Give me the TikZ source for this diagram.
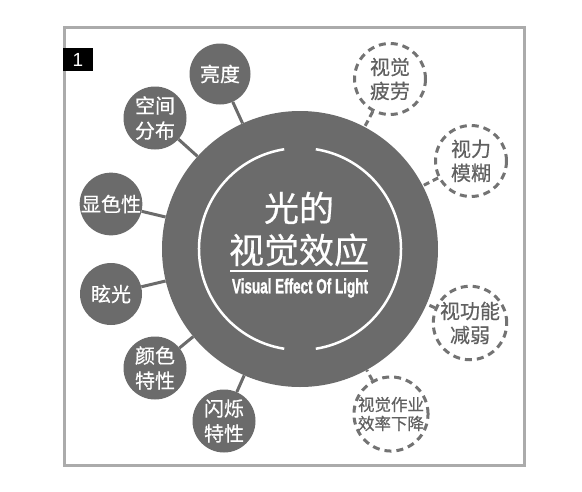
\documentclass[tikz,border=0pt]{standalone}
\usepackage{fontspec}
\usepackage{graphicx}
\newfontfamily\cjk{Noto Sans CJK SC}[FakeBold=0.5]
\newfontfamily\engfont{Liberation Sans}
\newfontfamily\engbold{Liberation Sans Bold}[FakeBold=1.5]
\definecolor{cgray}{HTML}{6B6B6B}
\definecolor{dgray}{HTML}{737373}
\definecolor{tgray}{HTML}{606060}
\definecolor{fgray}{HTML}{ABABAB}
\tikzset{
  solidc/.style={circle, fill=cgray, inner sep=0pt, text=white, align=center,
    font=\cjk\fontsize{20}{25}\selectfont},
  dashc/.style={circle, draw=dgray, line width=3pt, dash pattern=on 7pt off 5pt,
    inner sep=0pt, text=tgray, align=center, font=\cjk\fontsize{20}{24}\selectfont},
  conn/.style={draw=cgray, line width=3pt},
  dconn/.style={draw=dgray, line width=3pt, dash pattern=on 6pt off 4pt},
  ring/.style={draw=white, line width=2.5pt}
}
\begin{document}
\begin{tikzpicture}[x=1pt,y=-1pt]
\fill[white] (0,0) rectangle (582,491);
\useasboundingbox (0,0) rectangle (582,491);
\draw[fgray, line width=3pt] (64,27) rectangle (524.5,465);
\node[fill=black, text=white, minimum width=30pt, minimum height=23pt, inner sep=0pt,
  font=\engfont\fontsize{19}{19}\selectfont] (num) at (78,59.5) {1};

\node[circle, fill=cgray, minimum size=276pt, inner sep=0pt] (big) at (300,249) {};
\draw[ring] (big.center) ++(81:101) arc (81:-81:101);
\draw[ring] (big.center) ++(99:101) arc (99:261:101);
\node[text=white, align=center, font=\cjk\fontsize{35}{42}\selectfont] (title) at (299,229) {光的\\视觉效应};
\coordinate (ula) at (230,271);
\coordinate (ulb) at (368,271);
\draw[white, line width=2pt] (ula) -- (ulb);
\node[text=white, inner sep=0pt, font=\engbold\fontsize{20.5}{20.5}\selectfont] (eng) at (300,288)
  {\resizebox{136pt}{\height}{Visual Effect Of Light}};

\node[solidc, minimum size=61pt] (liang) at (220,74) {亮度};
\node[solidc, minimum size=63pt] (kong) at (155,118) {空间\\分布};
\node[solidc, minimum size=62pt] (xian) at (111,204) {显色性};
\node[solidc, minimum size=62pt] (xuan) at (111,294) {眩光};
\node[solidc, minimum size=63pt] (yan) at (155,368) {颜色\\特性};
\node[solidc, minimum size=63pt] (shan) at (224,421) {闪烁\\特性};

\node[dashc, minimum size=71pt] (pilao) at (390,79) {视觉\\疲劳};
\node[dashc, minimum size=71pt] (mohu) at (471,161) {视力\\模糊};
\node[dashc, minimum size=71pt] (jianruo) at (470,323) {视功能\\减弱};
\node[dashc, minimum size=72pt, font=\cjk\fontsize{16.5}{19}\selectfont] (xiaolv) at (391,414) {视觉作业\\效率下降};

\foreach \n in {liang,kong,xian,xuan,yan,shan}{\draw[conn] (\n) -- (big);}
\foreach \n in {pilao,mohu,jianruo,xiaolv}{\draw[dconn] (\n) -- (big);}
\end{tikzpicture}
\end{document}
